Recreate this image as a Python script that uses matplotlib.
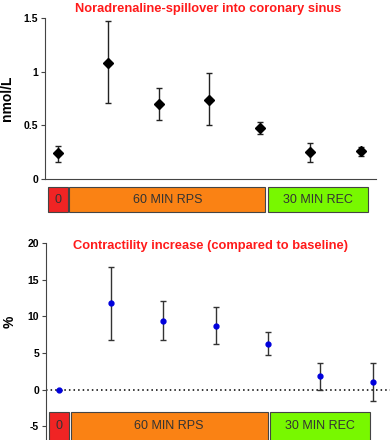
import numpy as np
import matplotlib.pyplot as plt
from matplotlib.patches import Rectangle

plt.rcParams['font.family'] = ['Liberation Sans', 'DejaVu Sans']

# Noradrenaline spillover (nmol/L)
na_mean = [0.24, 1.08, 0.70, 0.74, 0.475, 0.25, 0.26]
na_low = [0.16, 0.705, 0.55, 0.50, 0.42, 0.16, 0.215]
na_high = [0.31, 1.47, 0.85, 0.985, 0.53, 0.34, 0.30]

# Contractility increase (%)
ct_mean = [0.0, 11.78, 9.36, 8.73, 6.27, 1.86, 1.05]
ct_low = [0.0, 6.8, 6.8, 6.2, 4.7, 0.0, -1.55]
ct_high = [0.0, 16.7, 12.05, 11.3, 7.9, 3.64, 3.64]

# phase boxes: label, start, end, colour
phases_top = [("0", -0.20, 0.19, "#f02424"),
              ("60 MIN RPS", 0.22, 4.11, "#fa8214"),
              ("30 MIN REC", 4.16, 6.15, "#78f800")]
phases_bot = [("0", -0.185, 0.19, "#f02424"),
              ("60 MIN RPS", 0.23, 3.99, "#fa8214"),
              ("30 MIN REC", 4.03, 5.95, "#78f800")]

fig = plt.figure(figsize=(3.9, 4.4), dpi=100)

# ---- top panel
ax1 = fig.add_axes([45/390, 1-179/440, (376-45)/390, (179-18)/440])
x = np.arange(len(na_mean))
m = np.array(na_mean)
ax1.errorbar(x, m, yerr=[m-np.array(na_low), np.array(na_high)-m], fmt='D',
             color='black', ms=5, ecolor='#222222', elinewidth=1,
             capsize=2.2, capthick=1)
ax1.set_xlim(-0.257, 6.30)
ax1.set_ylim(0, 1.5)
ax1.set_yticks([0, 0.5, 1, 1.5])
ax1.set_yticklabels(["0", "0.5", "1", "1.5"], fontweight='bold', fontsize=7.5)
ax1.set_xticks([])
ax1.spines['top'].set_visible(False)
ax1.spines['right'].set_visible(False)
ax1.spines['left'].set_color('#444444')
ax1.spines['bottom'].set_color('#444444')
ax1.tick_params(axis='y', length=3, width=0.8, pad=2, color='#444444')
ax1.set_ylabel("nmol/L", fontweight='bold', fontsize=10)
ax1.yaxis.set_label_coords(-0.094, 0.5)
ax1.text(0.494, 1.055, "Noradrenaline-spillover into coronary sinus",
         transform=ax1.transAxes, ha='center', va='center', color='#ff1a1a',
         fontweight='bold', fontsize=9.3)
for lab, a, b, col in phases_top:
    ax1.add_patch(Rectangle((a, -0.3075), b-a, 0.233, facecolor=col,
                            edgecolor='#444444', lw=0.8, clip_on=False))
    ax1.text((a+b)/2, -0.191, lab, ha='center', va='center', fontsize=9,
             color='#333333', clip_on=False)

# ---- bottom panel
ax2 = fig.add_axes([46/390, 0, (390-46)/390, (440-243)/440])
c = np.array(ct_mean)
ax2.axhline(0, color='black', ls=(0, (1, 2)), lw=1.1)
ax2.errorbar(x, c, yerr=[c-np.array(ct_low), np.array(ct_high)-c], fmt='o',
             color='#0000dd', ms=3.5, ecolor='#333333', elinewidth=1,
             capsize=2.2, capthick=1)
ax2.set_xlim(-0.243, 6.33)
ax2.set_ylim(-6.86, 20)
ax2.set_yticks([-5, 0, 5, 10, 15, 20])
ax2.set_yticklabels(["-5", "0", "5", "10", "15", "20"], fontweight='bold',
                    fontsize=7.5)
ax2.set_xticks([])
for s in ['top', 'right', 'bottom']:
    ax2.spines[s].set_visible(False)
ax2.spines['left'].set_color('#444444')
ax2.tick_params(axis='y', length=3, width=0.8, pad=2, color='#444444')
ax2.set_ylabel("%", fontweight='bold', fontsize=10)
ax2.yaxis.set_label_coords(-0.084, 0.6)
ax2.text(0.478, 0.985, "Contractility increase (compared to baseline)",
         transform=ax2.transAxes, ha='center', va='center', color='#ff1a1a',
         fontweight='bold', fontsize=9.3)
for lab, a, b, col in phases_bot:
    ax2.add_patch(Rectangle((a, -7.5), b-a, 7.5-3.08, facecolor=col,
                            edgecolor='#444444', lw=0.8, clip_on=False))
    ax2.text((a+b)/2, -5.0, lab, ha='center', va='center', fontsize=9,
             color='#333333', clip_on=False)

fig.savefig("out.png", dpi=100)
